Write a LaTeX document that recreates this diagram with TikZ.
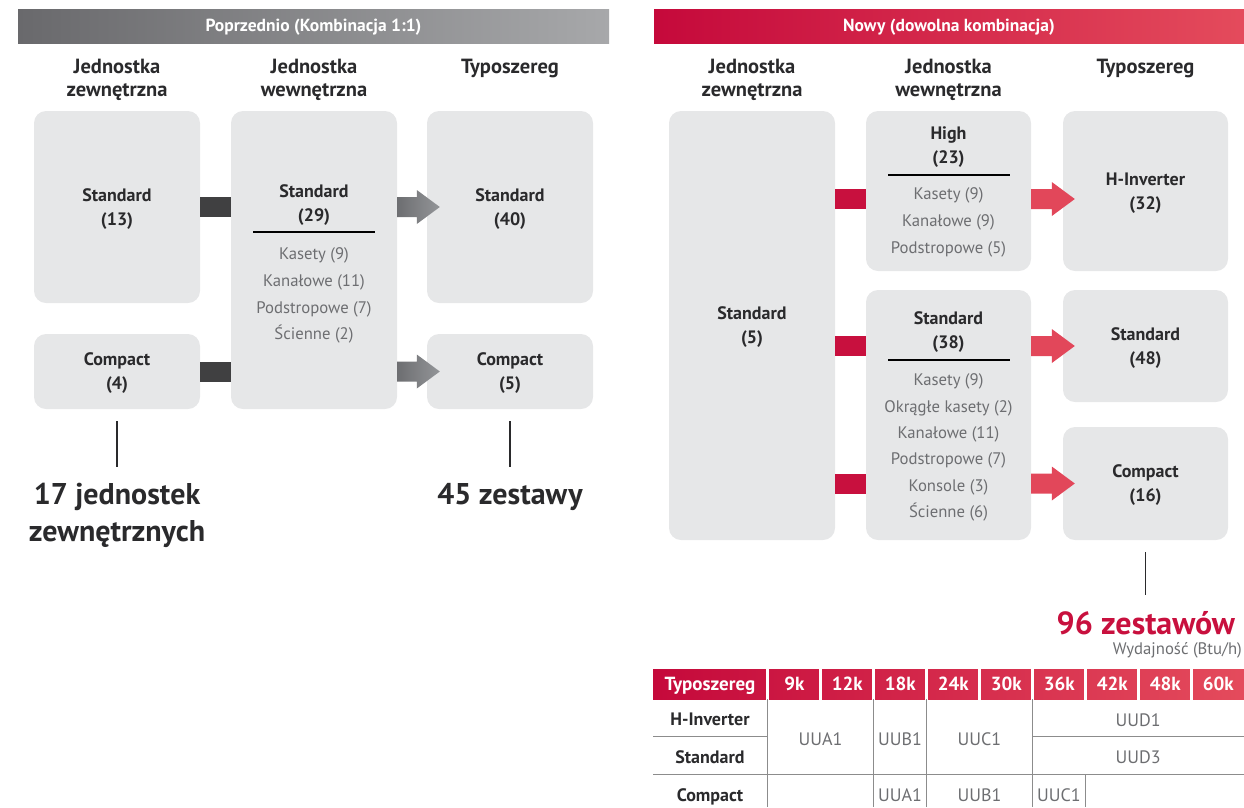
\documentclass[tikz,border=0pt]{standalone}
\usepackage{fontspec}
\setmainfont{PT Sans}
\usetikzlibrary{calc}

\definecolor{boxgray}{HTML}{E6E7E8}
\definecolor{txtdark}{HTML}{2A2A2C}
\definecolor{txtgray}{HTML}{6D6E71}
\definecolor{bardark}{HTML}{404041}
\definecolor{gryA}{HTML}{6D6E71}
\definecolor{gryB}{HTML}{939598}
\definecolor{hdrA}{HTML}{69696C}
\definecolor{hdrB}{HTML}{A7A8AA}
\definecolor{lgred}{HTML}{C5093B}
\definecolor{lgpink}{HTML}{E44B5C}
\definecolor{barred}{HTML}{C8103E}
\definecolor{arrred}{HTML}{E2475A}
\definecolor{gridgray}{HTML}{8C8C8C}

\begin{document}
\begin{tikzpicture}[x=1pt, y=-1pt,
    box/.style={fill=boxgray, rounded corners=12pt, minimum width=166pt, inner sep=0pt, text depth=-1pt,
        text=txtdark, align=center, font=\fontsize{18}{24}\selectfont\bfseries},
    boxtitle/.style={inner sep=0pt, text=txtdark, align=center, font=\fontsize{18}{24}\selectfont\bfseries},
    sublist/.style={inner sep=0pt, text=txtgray, align=center, font=\fontsize{16.7}{26.8}\selectfont},
    colhead/.style={anchor=north, inner sep=0pt, text=txtdark, align=center, font=\fontsize{20.5}{23}\selectfont\bfseries},
    hdr/.style={minimum height=34.5pt, inner sep=0pt, text=white, font=\fontsize{17.5}{18}\selectfont\bfseries},
    total/.style={inner sep=0pt, outer sep=16pt, align=center, font=\fontsize{30}{37}\selectfont\bfseries},
    tick/.style={line width=1.8pt, draw=txtdark},
    lbar/.style={line width=20pt, draw=bardark},
    rbar/.style={line width=20pt, draw=barred},
    sep/.style={line width=1.1pt, draw=black},
    grid/.style={line width=1pt, draw=gridgray},
    thd/.style={anchor=base, inner sep=0pt, text=white, font=\fontsize{19}{20}\selectfont\bfseries},
    trow/.style={anchor=base, inner sep=0pt, text=txtdark, font=\fontsize{18}{20}\selectfont\bfseries},
    tval/.style={anchor=base, inner sep=0pt, text=txtgray, font=\fontsize{18}{20}\selectfont}]

    \useasboundingbox (0,0) rectangle (1244,807);

    % Old lineup (1:1)
    \node[hdr, minimum width=591pt, left color=hdrA, right color=hdrB] (lhdr) at (313.5,26.7) {Poprzednio (Kombinacja 1:1)};
    \node[colhead] (lcol1) at (117,59) {Jednostka\\zewnętrzna};
    \node[colhead] (lcol2) at (314,59) {Jednostka\\wewnętrzna};
    \node[colhead] (lcol3) at (510,59) {Typoszereg};

    \node[box, minimum height=192pt] (lout1) at (117,207) {Standard\\(13)};
    \node[box, minimum height=75pt] (lout2) at (117,371.5) {Compact\\(4)};
    \node[box, minimum height=298pt] (lin) at (314,260) {};
    \node[box, minimum height=192pt] (lser1) at (510,207) {Standard\\(40)};
    \node[box, minimum height=75pt] (lser2) at (510,371.5) {Compact\\(5)};

    \node[boxtitle] (lintit) at (314,205) {Standard\\(29)};
    \draw[sep] (253,232) -- (375,232);
    \node[sublist] (linlst) at (314,295.5) {Kasety (9)\\Kanałowe (11)\\Podstropowe (7)\\Ścienne (2)};

    % Old links
    \draw[lbar] (lout1.east) -- (lout1.east -| lin.west);
    \draw[lbar] (lout2.east) -- (lout2.east -| lin.west);
    \foreach \b in {lser1,lser2} {
        \coordinate (p) at (lin.east |- \b.west);
        \coordinate (q) at ($(\b.west)+(13,0)$);
        \shade[left color=gryA, right color=gryB] ($(p)+(0,-10)$) -- ($(q)+(-23,-10)$) -- ($(q)+(-23,-17)$) -- (q)
            -- ($(q)+(-23,17)$) -- ($(q)+(-23,10)$) -- ($(p)+(0,10)$) -- cycle;
    }

    % Old totals
    \node[total, anchor=north, text=txtdark] (lsum) at (117,467) {17 jednostek\\zewnętrznych};
    \draw[tick] ($(lout2.south)+(0,12)$) -- (lsum.north);
    \node[total, anchor=north, text=txtdark] (lset) at (510,467) {45 zestawy};
    \draw[tick] ($(lser2.south)+(0,12)$) -- (lset.north);

    % New lineup (any combination)
    \node[hdr, minimum width=590pt, left color=lgred, right color=lgpink] (rhdr) at (949,26.7) {Nowy (dowolna kombinacja)};
    \node[colhead] (rcol1) at (752,59) {Jednostka\\zewnętrzna};
    \node[colhead] (rcol2) at (948.5,59) {Jednostka\\wewnętrzna};
    \node[colhead] (rcol3) at (1145.5,59) {Typoszereg};

    \node[box, minimum height=429pt] (rout) at (752,325.5) {Standard\\(5)};
    \node[box, minimum width=165pt, minimum height=160pt] (rin1) at (948.5,191) {};
    \node[box, minimum width=165pt, minimum height=250pt] (rin2) at (948.5,415) {};
    \node[box, minimum width=165pt, minimum height=160pt] (rser1) at (1145.5,191) {H-Inverter\\(32)};
    \node[box, minimum width=165pt, minimum height=112pt] (rser2) at (1145.5,346) {Standard\\(48)};
    \node[box, minimum width=165pt, minimum height=113pt] (rser3) at (1145.5,483.5) {Compact\\(16)};

    \node[boxtitle] (rin1tit) at (948.5,147) {High\\(23)};
    \draw[sep] (888,175) -- (1010,175);
    \node[sublist] (rin1lst) at (948.5,222.6) {Kasety (9)\\Kanałowe (9)\\Podstropowe (5)};
    \node[boxtitle] (rin2tit) at (948.5,331.7) {Standard\\(38)};
    \draw[sep] (888,360) -- (1010,360);
    \node[sublist, font=\fontsize{16.7}{26.3}\selectfont] (rin2lst) at (948.5,447.5)
        {Kasety (9)\\Okrągłe kasety (2)\\Kanałowe (11)\\Podstropowe (7)\\Konsole (3)\\Ścienne (6)};

    % New links
    \foreach \a/\b/\dy in {rin1/rser1/8,rin2/rser2/0,rin2/rser3/0} {
        \coordinate (p) at ($(\a.east |- \b.west)+(0,\dy)$);
        \coordinate (q) at ($(\b.west)+(12,\dy)$);
        \draw[rbar] (rout.east |- q) -- (\a.west |- q);
        \fill[arrred] ($(p)+(0,-10)$) -- ($(q)+(-23,-10)$) -- ($(q)+(-23,-17)$) -- (q)
            -- ($(q)+(-23,17)$) -- ($(q)+(-23,10)$) -- ($(p)+(0,10)$) -- cycle;
    }

    % New total
    \node[total, anchor=base east, outer xsep=0pt, text=barred, font=\fontsize{32}{37}\selectfont\bfseries] (rsum) at (1235,634) {96 zestawów};
    \draw[tick] ($(rser3.south)+(0,12)$) -- (rser3.south |- rsum.north);
    \node[anchor=base east, inner sep=0pt, text=txtgray, font=\fontsize{16.7}{18}\selectfont] (unit) at (1242,654) {Wydajność (Btu/h)};

    % Capacity table
    \shade[left color=lgred, right color=lgpink] (653,669) rectangle (1244,699);
    \foreach \i in {0,...,8}
        \draw[white, line width=2.8pt] (767.5+53*\i,668) -- (767.5+53*\i,700);
    \node[thd] (th) at (710,690.7) {Typoszereg};
    \foreach \lab [count=\i from 0] in {9k,12k,18k,24k,30k,36k,42k,48k,60k}
        \node[thd] (th\i) at (794.3+53*\i,690.7) {\lab};

    \draw[grid] (653,736.5) -- (767.5,736.5);
    \draw[grid] (1032.5,736.5) -- (1244,736.5);
    \draw[grid] (653,774) -- (1244,774);
    \foreach \x in {767.5,873.5,926.5,1032.5}
        \draw[grid] (\x,699) -- (\x,807);
    \draw[grid] (1085.5,774) -- (1085.5,807);

    \node[trow] (tr1) at (710,725.3) {H-Inverter};
    \node[trow] (tr2) at (710,763.3) {Standard};
    \node[trow] (tr3) at (710,801.7) {Compact};
    \node[tval] (ta1) at (820.5,745.3) {UUA1};
    \node[tval] (tb1) at (900,745.3) {UUB1};
    \node[tval] (tc1) at (979.5,745.3) {UUC1};
    \node[tval] (td1) at (1138.25,726) {UUD1};
    \node[tval] (td3) at (1138.25,763.3) {UUD3};
    \node[tval] (ta2) at (900,801.7) {UUA1};
    \node[tval] (tb2) at (979.5,801.7) {UUB1};
    \node[tval] (tc2) at (1059,801.7) {UUC1};
\end{tikzpicture}
\end{document}
